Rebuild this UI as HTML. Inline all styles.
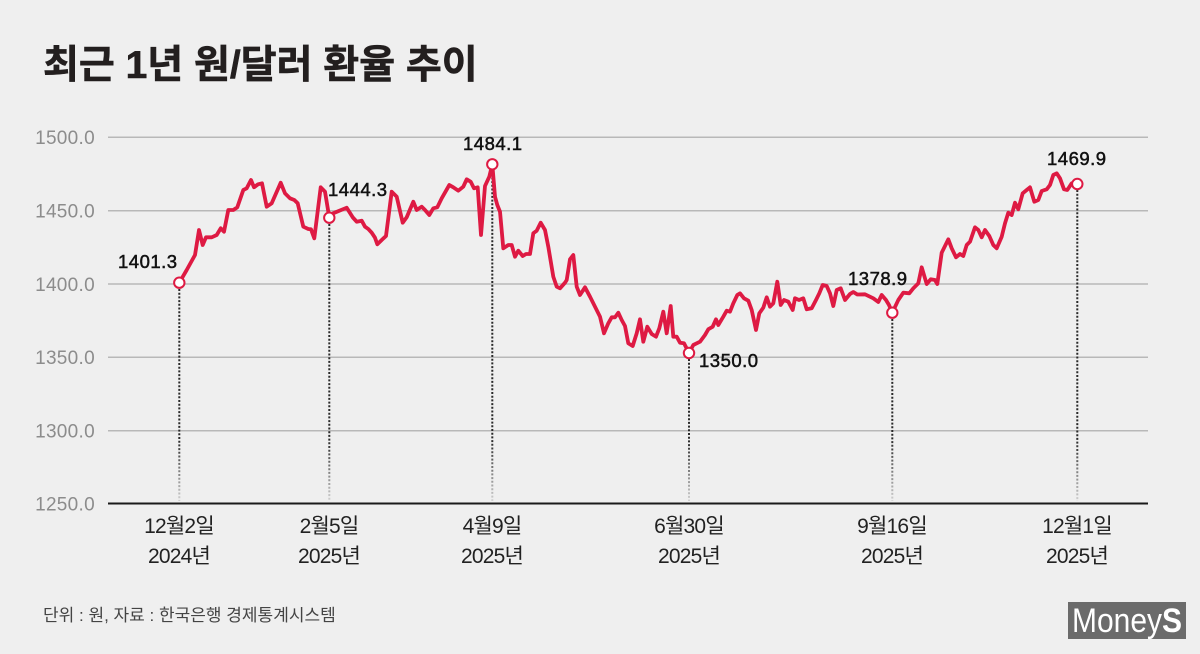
<!DOCTYPE html>
<html>
<head>
<meta charset="utf-8">
<style>
  html,body{margin:0;padding:0;background:#efefef;}
  svg{display:block;}
  .kr{font-family:"Liberation Sans","Noto Sans CJK KR",sans-serif;}
</style>
</head>
<body>
<svg width="1200" height="654" viewBox="0 0 1200 654" xmlns="http://www.w3.org/2000/svg">
  <defs>
    <linearGradient id="fade" gradientUnits="userSpaceOnUse" x1="0" y1="440" x2="0" y2="502">
      <stop offset="0" stop-color="#2a2a2a"/>
      <stop offset="1" stop-color="#d4d4d4"/>
    </linearGradient>
  </defs>
  <rect width="1200" height="654" fill="#efefef"/>

  <!-- Title -->
  <text class="kr" x="43" y="78" font-size="39" font-weight="bold" fill="#231f1f" stroke="#231f1f" stroke-width="0.6">최근 1년 원/달러 환율 추이</text>

  <!-- grid -->
  <g stroke="#b8b8b8" stroke-width="1.5">
    <line x1="108" y1="137.3" x2="1148" y2="137.3"/>
    <line x1="108" y1="210.7" x2="1148" y2="210.7"/>
    <line x1="108" y1="284" x2="1148" y2="284"/>
    <line x1="108" y1="357.3" x2="1148" y2="357.3"/>
    <line x1="108" y1="430.7" x2="1148" y2="430.7"/>
  </g>
  <line x1="108" y1="503.5" x2="1148" y2="503.5" stroke="#1a1a1a" stroke-width="2"/>

  <!-- y labels -->
  <g font-family="Liberation Sans, sans-serif" font-size="19" fill="#8c8c8c" text-anchor="end" letter-spacing="0.3">
    <text x="95" y="144">1500.0</text>
    <text x="95" y="217.5">1450.0</text>
    <text x="95" y="291">1400.0</text>
    <text x="95" y="364">1350.0</text>
    <text x="95" y="437.5">1300.0</text>
    <text x="95" y="510.5">1250.0</text>
  </g>

  <!-- dotted drop lines -->
  <g stroke="url(#fade)" stroke-width="2" stroke-dasharray="2,1.7">
    <line x1="179.3" y1="289" x2="179.3" y2="501"/>
    <line x1="329.3" y1="224" x2="329.3" y2="501"/>
    <line x1="492.3" y1="170" x2="492.3" y2="501"/>
    <line x1="689" y1="359" x2="689" y2="501"/>
    <line x1="892.3" y1="319" x2="892.3" y2="501"/>
    <line x1="1077.3" y1="190" x2="1077.3" y2="501"/>
  </g>

  <!-- series -->
  <polyline fill="none" stroke="#de1a43" stroke-width="3.8" stroke-linejoin="round" stroke-linecap="round"
    points="179.3,282.7 186.7,270 195,255 199,230 202.7,245 206,237.3 211.7,237.3 216.7,235 220.7,228.3 224,231.7 228.3,210 233.3,210 237.3,207.3 243.3,190 246.7,188.3 251,180 254,187.3 258,184.3 262,183.3 266.7,206.7 271.7,203.3 280.7,182.7 285,193.3 290,198.3 294.3,200 297.7,203.3 303.3,226.7 308.3,229 311,229.3 314.3,238.3 320.7,187.3 325,191.7 329.3,217.7 333.3,213.3 339.3,210.7 346.7,207.7 352.7,217.3 356.7,221.7 361.7,220.7 365,226.7 368.3,229 371.7,232.7 375,237.7 377.3,244.3 381.7,240 386,236 391.7,191.7 396.7,196.7 402.7,222.7 406.7,217.3 413.3,201.7 416.7,210 421.7,206.7 425,210 429.3,215 433.3,208.3 437.3,207.3 441.7,198.3 449.3,185 453.3,187.3 458.3,190.7 463.3,186.7 466.7,179.3 470.7,181.7 474,188.3 477.7,187.3 481,235 485,186 489.3,176.7 492.3,164.3 495,196.7 497.3,205 500,211.7 503.3,248.3 508.3,245 511.7,245 515,256.7 518.3,250.7 522.7,256 526,254 530,254 533.3,233.3 536.7,230.7 540.7,222.7 545,230 548.3,246.7 553.3,276.7 556.7,286.7 560,288.3 565,282.7 566.7,280 570,259.3 573.3,255 576.7,286.7 580,295 585,287.3 590,296.7 595,306.7 600,316.7 604,333.3 608.3,323.3 611.7,317.3 615,317.3 618.3,312.7 621.7,320 625,326 628.3,343.3 632.7,346 636.7,333.3 640,319.3 643.3,341.7 647.3,326.7 651.7,334 656,336.7 659.3,328.3 663.3,311.7 666.7,333.3 670.7,306 673.3,336.7 676.7,336.7 680,342.7 684,343.3 689,353 693.3,345 700,341.7 705,335 708.3,329.3 712.7,326.7 716,319.3 718.3,325 723.3,316.7 726.7,310.7 730,311.7 733.3,303.3 737.3,295 740,293.3 744,298.3 748.3,300.7 751.7,310 756,330 759.3,313.3 763.3,307.7 766.7,297.3 770,306.7 773.3,303.3 777.3,281.7 780.7,305 784,300 788.3,301.7 792.7,310 795,298.3 799,300 803.3,298.3 806.7,309.3 811.7,308.3 816,300 819.3,293.3 822.7,285 826.7,286 830,293.3 833.3,306 836.7,290 840.7,288.3 845,300 850,294 853.3,292 857.3,294.5 865,294.3 873.3,298.3 878.3,302 881.7,295 886,300 889,305 892.3,312.7 898.3,300 903.3,292.7 909.3,293.3 913.3,288.3 918.3,283.3 921.7,267.3 926.7,284 930.7,279.3 935,280 937.3,284 941.7,252.7 948.3,239.3 951.7,248.3 956,257.3 960,254 963.3,256 966.7,245 970,241.7 975,227.3 978.3,230 981.7,237.3 985,230 989.3,236 993.3,245 996.7,248.3 1001.7,236.7 1005,223.3 1008.3,212.7 1011.7,215 1015,202.7 1018.3,209.3 1022.7,193.3 1026.7,190 1030,187.3 1034.3,201.7 1038.3,200 1041.7,191 1046.7,189.3 1050,185 1053.3,175 1056.7,173.3 1060,178.3 1064,189.3 1067.3,190 1071.7,183.3 1077.3,184"/>

  <!-- markers -->
  <g fill="#ffffff" stroke="#de1a43" stroke-width="2">
    <circle cx="179.3" cy="282.7" r="5.2"/>
    <circle cx="329.3" cy="217.7" r="5.2"/>
    <circle cx="492.3" cy="164.3" r="5.2"/>
    <circle cx="689" cy="353" r="5.2"/>
    <circle cx="892.3" cy="312.7" r="5.2"/>
    <circle cx="1077.3" cy="184" r="5.2"/>
  </g>

  <!-- value labels -->
  <g font-family="Liberation Sans, sans-serif" font-size="18.5" fill="#111" stroke="#111" stroke-width="0.5" letter-spacing="0.5">
    <text x="118" y="268">1401.3</text>
    <text x="328" y="196">1444.3</text>
    <text x="463" y="150">1484.1</text>
    <text x="699" y="367">1350.0</text>
    <text x="848" y="285">1378.9</text>
    <text x="1047" y="165">1469.9</text>
  </g>

  <!-- x labels -->
  <g class="kr" font-size="21" fill="#222" text-anchor="middle" letter-spacing="-0.8">
    <text x="179" y="533">12월2일</text>
    <text x="179" y="563">2024년</text>
    <text x="329" y="533">2월5일</text>
    <text x="329" y="563">2025년</text>
    <text x="492" y="533">4월9일</text>
    <text x="492" y="563">2025년</text>
    <text x="689" y="533">6월30일</text>
    <text x="689" y="563">2025년</text>
    <text x="892" y="533">9월16일</text>
    <text x="892" y="563">2025년</text>
    <text x="1077" y="533">12월1일</text>
    <text x="1077" y="563">2025년</text>
  </g>

  <!-- footer -->
  <text class="kr" x="43" y="621" font-size="17" fill="#444">단위 : 원, 자료 : 한국은행 경제통계시스템</text>

  <!-- logo -->
  <rect x="1068" y="602" width="118" height="37" fill="#6b6b6b"/>
  <text x="1072" y="632" font-family="Liberation Sans, sans-serif" font-size="34" fill="#ffffff" textLength="110" lengthAdjust="spacingAndGlyphs">Money<tspan font-weight="bold">S</tspan></text>
</svg>
</body>
</html>
